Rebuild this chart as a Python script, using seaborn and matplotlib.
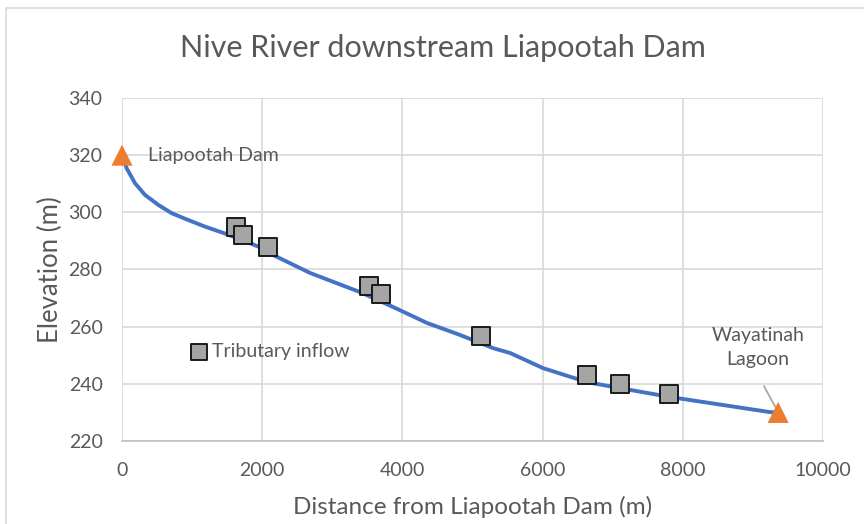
import matplotlib
matplotlib.use("Agg")
import matplotlib.pyplot as plt
import seaborn as sns
import pandas as pd
from matplotlib.patches import Rectangle

# River long profile (distance downstream, bed elevation)
profile_dist = [0, 20, 67, 185, 328, 518, 709, 946, 1184, 1327, 1469, 1712, 1997,
                2154, 2682, 3395, 3866, 4351, 4822, 5292, 5535, 6006, 6633, 7104,
                7817, 9244, 9360]
profile_elev = [320.0, 318.4, 315.4, 310.2, 306.1, 302.6, 299.7, 297.3, 295.0,
                293.8, 292.6, 290.3, 287.5, 285.1, 278.8, 272.1, 266.9, 261.3,
                257.1, 252.5, 250.8, 245.5, 240.6, 238.5, 235.4, 230.1, 230.0]

# Tributary inflow locations
inflow_dist = [1626, 1726, 2083, 3524, 3695, 5121, 6633, 7104, 7803]
inflow_elev = [294.9, 292.1, 287.9, 274.3, 271.5, 256.8, 243.1, 240.0, 236.5]

# Dam and lagoon end points
site_names = ["Liapootah Dam", "Wayatinah\nLagoon"]
site_dist = [0, 9360]
site_elev = [320, 230]

x_ticks = [0, 2000, 4000, 6000, 8000, 10000]
y_ticks = [220, 240, 260, 280, 300, 320, 340]

TXT = "#595959"
GRID = "#D9D9D9"

sns.set_theme(style="white")
plt.rcParams["font.family"] = ["Lato", "DejaVu Sans"]

fig = plt.figure(figsize=(8.64, 5.24), dpi=100)
ax = fig.add_axes([122 / 864, 1 - 441 / 524, 701 / 864, 343 / 524])

# Chart-area border
fig.patches.append(Rectangle((6 / 864, -0.1), 1.2, 1 - 8 / 524 + 0.1,
                             transform=fig.transFigure, fill=False,
                             edgecolor="#D9D9D9", linewidth=1.2))

profile = pd.DataFrame({"dist": profile_dist, "elev": profile_elev})
inflows = pd.DataFrame({"dist": inflow_dist, "elev": inflow_elev})
sites = pd.DataFrame({"dist": site_dist, "elev": site_elev})

sns.lineplot(data=profile, x="dist", y="elev", ax=ax, color="#4472C4",
             linewidth=2.8, zorder=3, clip_on=False)
ax.lines[-1].set_solid_joinstyle("round")
ax.lines[-1].set_solid_capstyle("round")
sns.scatterplot(data=inflows, x="dist", y="elev", ax=ax, marker="s", s=150,
                color="#A5A5A5", edgecolor="#1A1A1A", linewidth=1.4, zorder=4,
                label="Tributary inflow", clip_on=False)
sns.scatterplot(data=sites, x="dist", y="elev", ax=ax, marker="^", s=230,
                color="#ED7D31", edgecolor="none", zorder=5, clip_on=False)

ax.set_xlim(0, 10000)
ax.set_ylim(220, 340)
ax.set_xticks(x_ticks)
ax.set_yticks(y_ticks)
ax.grid(True, color=GRID, linewidth=1.2)
ax.set_axisbelow(True)
for side in ["top", "right", "left"]:
    ax.spines[side].set_visible(False)
ax.spines["bottom"].set_color("#BFBFBF")
ax.spines["bottom"].set_linewidth(1.2)
ax.tick_params(axis="both", length=0, labelsize=14, colors=TXT)
ax.tick_params(axis="x", pad=15)
ax.tick_params(axis="y", pad=14)

ax.set_xlabel("Distance from Liapootah Dam (m)", fontsize=17.5, color=TXT, labelpad=12)
ax.set_ylabel("Elevation (m)", fontsize=18.5, color=TXT, labelpad=4)
fig.suptitle("Nive River downstream Liapootah Dam", fontsize=22, color=TXT,
             x=443 / 864, y=1 - 48 / 524, va="center")

# Site labels
ax.text(370, site_elev[0], site_names[0], fontsize=14, color=TXT,
        va="center", ha="left")
ax.text(9070, 252.7, site_names[1], fontsize=14, color=TXT, ha="center",
        va="center", linespacing=1.45)
ax.annotate("", xy=(site_dist[1] - 30, site_elev[1] + 1.5), xytext=(9158, 239.2),
            arrowprops=dict(arrowstyle="-", color="#A6A6A6", linewidth=1.3,
                            shrinkA=0, shrinkB=0))

ax.legend(loc="center left", bbox_to_anchor=(0.0985, 0.262), frameon=False,
          fontsize=14, labelcolor=TXT, handlelength=0.8, handletextpad=0.3,
          borderpad=0, markerscale=0.95, borderaxespad=0)

fig.savefig("out.png", dpi=100, facecolor="white")
